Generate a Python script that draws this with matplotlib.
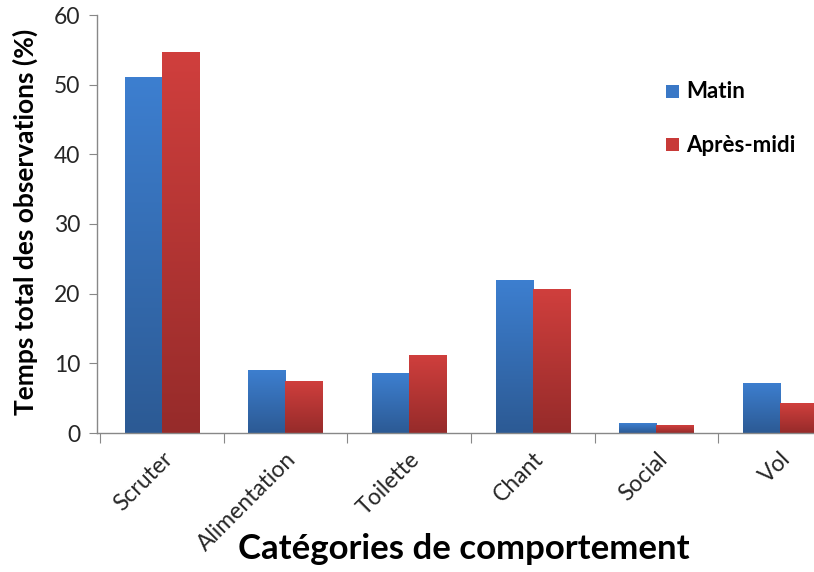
import numpy as np
import matplotlib
matplotlib.use("Agg")
import matplotlib.pyplot as plt
from matplotlib.colors import LinearSegmentedColormap
from matplotlib.patches import Rectangle

categories = ["Scruter", "Alimentation", "Toilette", "Chant", "Social", "Vol"]
matin = [51.1, 9.1, 8.6, 22.0, 1.4, 7.2]
apres_midi = [54.7, 7.5, 11.2, 20.7, 1.1, 4.3]
series_names = ["Matin", "Après-midi"]
yticks = [0, 10, 20, 30, 40, 50, 60]

plt.rcParams['font.family'] = ['Lato', 'DejaVu Sans']

fig = plt.figure(figsize=(8.14, 5.72), dpi=100)
ax = fig.add_axes([97/814, 1-433/572, (842-97)/814, (433-15)/572])

x = np.arange(len(categories))
w = 0.3
grad_blue = LinearSegmentedColormap.from_list("b", ["#2c5a94", "#3d7fd0"])
grad_red = LinearSegmentedColormap.from_list("r", ["#962b2a", "#d03f3d"])
solid = {"Matin": "#3a78c6", "Après-midi": "#c83a38"}

def gradient_bars(bars, cmap):
    grad = np.linspace(0, 1, 256).reshape(-1, 1)
    for b in bars:
        bx, by = b.get_x(), b.get_y()
        bw, bh = b.get_width(), b.get_height()
        im = ax.imshow(grad, cmap=cmap, origin="lower", aspect="auto",
                       extent=[bx, bx + bw, by, by + bh], zorder=2)
        im.set_clip_path(b)
        b.set_facecolor("none")

b1 = ax.bar(x - w/2, matin, w, color=solid["Matin"], zorder=2, linewidth=0)
b2 = ax.bar(x + w/2, apres_midi, w, color=solid["Après-midi"], zorder=2, linewidth=0)
gradient_bars(b1, grad_blue)
gradient_bars(b2, grad_red)

ax.set_xlim(-0.524, len(categories) - 0.5)
ax.set_ylim(0, 60)
ax.set_yticks(yticks)
ax.set_yticklabels([str(v) for v in yticks], fontsize=16.5, color="#262626")

ax.set_xticks(np.arange(len(categories) + 1) - 0.5)
ax.set_xticklabels([])
ax.set_xticks(x, minor=True)
ax.set_xticklabels(categories, minor=True, rotation=45, ha="right",
                   rotation_mode="anchor", fontsize=16.5, color="#262626")
ax.tick_params(axis="x", which="minor", length=0, pad=11)
ax.tick_params(axis="x", which="major", length=7, color="#888888", direction="out")
ax.tick_params(axis="y", length=6, color="#888888", direction="out", pad=6)

for s in ["top", "right"]:
    ax.spines[s].set_visible(False)
for s in ["left", "bottom"]:
    ax.spines[s].set_color("#888888")
    ax.spines[s].set_linewidth(1.0)

fig.text(25/814, 1-222/572, "Temps total des observations (%)", rotation=90,
         ha="center", va="center", fontsize=19, fontweight="bold")
fig.text(464/814, 1-549/572, "Catégories de comportement", ha="center",
         va="center", fontsize=25, fontweight="bold")

# legend
for i, (name, col) in enumerate(zip(series_names, ["#3a78c6", "#c83a38"])):
    yc = 1 - (92 + i*53)/572
    fig.patches.append(Rectangle((666/814, yc - 6/572), 13/814, 13/572,
                                 transform=fig.transFigure, facecolor=col,
                                 edgecolor="none"))
    fig.text(686/814, yc, name, ha="left", va="center", fontsize=16,
             fontweight="bold")

fig.savefig("out.png", dpi=100)
